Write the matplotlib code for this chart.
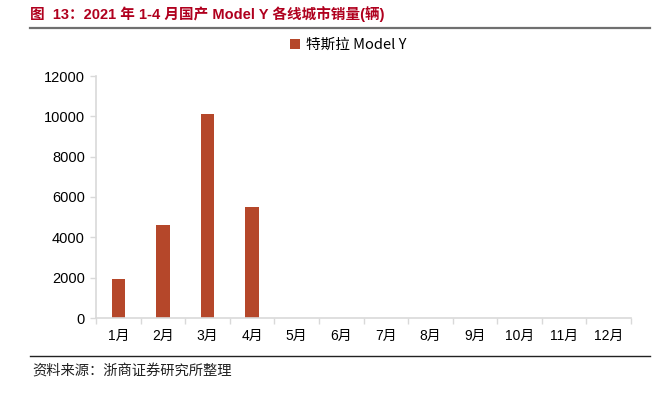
import matplotlib
matplotlib.use("Agg")
import matplotlib.pyplot as plt
from matplotlib.lines import Line2D
import numpy as np

plt.rcParams['font.family'] = ['Liberation Sans', 'Noto Sans CJK SC', 'DejaVu Sans']

# data
months = ['1月', '2月', '3月', '4月', '5月', '6月', '7月', '8月', '9月', '10月', '11月', '12月']
sales = [1950, 4600, 10100, 5500, 0, 0, 0, 0, 0, 0, 0, 0]
yticks = [0, 2000, 4000, 6000, 8000, 10000, 12000]
series_name = '特斯拉 Model Y'
title = '图  13：2021 年 1-4 月国产 Model Y 各线城市销量(辆)'
source = '资料来源：浙商证券研究所整理'

bar_color = '#B5472A'
axis_color = '#D9D9D9'

fig = plt.figure(figsize=(6.69, 3.98), dpi=100)
ax = fig.add_axes([96/669, 1-318/398, (631-96)/669, (318-76)/398])

x = np.arange(len(months))
ax.bar(x, sales, width=0.3, color=bar_color, label=series_name)

ax.set_xlim(-0.5, len(months)-0.5)
ax.set_ylim(0, 12000)
ax.set_yticks(yticks)
ax.set_yticklabels([str(v) for v in yticks], fontsize=10.5)
ax.set_xticks(x)
ax.set_xticklabels(months, fontsize=10)
ax.tick_params(axis='x', length=0, pad=8)
ax.set_xticks(np.arange(len(months)+1)-0.5, minor=True)
ax.tick_params(axis='x', which='minor', length=4, color=axis_color, width=1)
ax.tick_params(axis='y', length=4, color=axis_color, width=1, pad=4)

for s in ['top', 'right']:
    ax.spines[s].set_visible(False)
for s in ['left', 'bottom']:
    ax.spines[s].set_color(axis_color)
    ax.spines[s].set_linewidth(1.2)

fig.legend(loc='center', bbox_to_anchor=(348/669, 1-45/398), frameon=False,
           handlelength=0.7, handleheight=0.7, handletextpad=0.4,
           prop={'family': ['Noto Sans CJK SC', 'DejaVu Sans'], 'size': 10.5})

# title and rules
fig.text(30/669, 1-14/398, title, fontsize=10.5, fontweight='bold', color='#B0001E',
         ha='left', va='center', family=['Liberation Sans', 'Noto Sans CJK SC', 'DejaVu Sans'])
fig.add_artist(Line2D([30/669, 650/669], [1-28/398, 1-28/398], color='#707070', linewidth=1.6))
fig.add_artist(Line2D([30/669, 650/669], [1-356/398, 1-356/398], color='#222222', linewidth=1.0))
fig.text(32/669, 1-372/398, source, fontsize=10.3, color='#222222', ha='left', va='center',
         family=['Noto Sans CJK SC', 'DejaVu Sans'])

fig.savefig('out.png', dpi=100)
